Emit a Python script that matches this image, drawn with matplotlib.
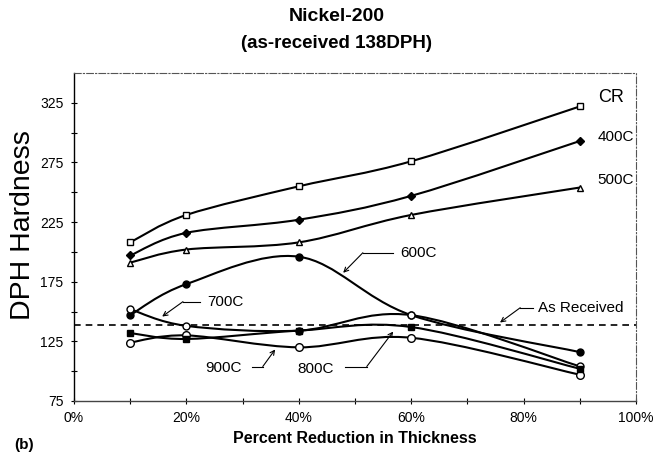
import numpy as np
import matplotlib
matplotlib.use("Agg")
import matplotlib.pyplot as plt
from matplotlib.path import Path
from matplotlib.patches import PathPatch

plt.rcParams['font.family'] = ['Liberation Sans', 'DejaVu Sans']

# ---- data ----
reduction = [10, 20, 40, 60, 90]  # percent reduction in thickness
cr    = [208, 231, 255, 276, 322]
c400  = [197, 216, 227, 247, 293]
c500  = [191, 202, 208, 231, 254]
c600  = [147, 173, 196, 147, 116]
c700  = [152, 138, 134, 147, 104]
c800  = [124, 130, 120, 128, 97]
c900  = [132, 127, 134, 137, 102]
as_received = 139

series = [
    ("CR", cr, dict(marker='s', mfc='white', ms=5)),
    ("400C", c400, dict(marker='D', mfc='black', ms=4.5)),
    ("500C", c500, dict(marker='^', mfc='white', ms=5)),
    ("600C", c600, dict(marker='o', mfc='black', ms=5)),
    ("700C", c700, dict(marker='o', mfc='white', ms=5)),
    ("800C", c800, dict(marker='o', mfc='white', ms=5.5)),
    ("900C", c900, dict(marker='s', mfc='black', ms=5)),
]

def smooth_path(x, y):
    """Excel-like smoothed line as cubic Bezier (Catmull-Rom control points)."""
    pts = np.column_stack([x, y]).astype(float)
    n = len(pts)
    verts = [pts[0]]
    codes = [Path.MOVETO]
    for i in range(n - 1):
        p0 = pts[i - 1] if i > 0 else pts[i]
        p1 = pts[i]
        p2 = pts[i + 1]
        p3 = pts[i + 2] if i + 2 < n else pts[i + 1]
        c1 = p1 + (p2 - p0) / 6.0
        c2 = p2 - (p3 - p1) / 6.0
        verts += [c1, c2, p2]
        codes += [Path.CURVE4] * 3
    return Path(verts, codes)

fig = plt.figure(figsize=(6.66, 4.58), dpi=100)
ax = fig.add_axes([0.111, 0.1245, 0.844, 0.716])

for name, vals, st in series:
    ax.add_patch(PathPatch(smooth_path(reduction, vals), fill=False,
                           edgecolor='black', lw=1.5, zorder=3))
    ax.plot(reduction, vals, linestyle='none', mec='black', mew=1.0,
            zorder=4, **st)

ax.axhline(as_received, color='black', lw=1.2, ls=(0, (4, 3)), zorder=2)

ax.set_xlim(0, 100)
ax.set_ylim(75, 350)
ax.set_xticks(np.arange(0, 101, 20))
ax.set_xticklabels([f"{v}%" for v in range(0, 101, 20)])
ax.set_xticks(np.arange(10, 100, 20), minor=True)
ax.set_yticks(np.arange(75, 326, 50))
ax.set_yticks(np.arange(100, 301, 50), minor=True)
ax.tick_params(axis='both', which='major', direction='inout', length=5,
               width=0.8, labelsize=10, pad=5)
ax.tick_params(axis='both', which='minor', direction='inout', length=4,
               width=0.8)

for s in ['top', 'right']:
    ax.spines[s].set_linestyle((0, (6, 2, 1, 2)))
    ax.spines[s].set_color('#555555')
    ax.spines[s].set_linewidth(0.8)
ax.spines['left'].set_linewidth(1.0)
ax.spines['bottom'].set_linewidth(1.0)
ax.spines['bottom'].set_color('#444444')

ax.set_ylabel("DPH Hardness", fontsize=20.5)
ax.yaxis.set_label_coords(-0.068, 0.537)
ax.set_xlabel("Percent Reduction in Thickness", fontsize=11.5,
              fontweight='bold', labelpad=4)

fig.text(0.506, 0.963, "Nickel-200", ha='center', va='center',
         fontsize=14, fontweight='bold')
fig.text(0.506, 0.905, "(as-received 138DPH)", ha='center', va='center',
         fontsize=13.5, fontweight='bold')
fig.text(0.021, 0.028, "(b)", ha='left', va='center', fontsize=11,
         fontweight='bold')

# end labels
ax.text(93.2, 329.4, "CR", fontsize=13, va='center', ha='left')
ax.text(93.1, 296, "400C", fontsize=11, va='center', ha='left')
ax.text(93.1, 260, "500C", fontsize=11, va='center', ha='left')

arrow = dict(arrowstyle='->', lw=0.8, color='black', shrinkA=0, shrinkB=0,
             mutation_scale=8)

def callout(text, text_xy, elbow_start, elbow_end, target, ha='left'):
    ax.text(text_xy[0], text_xy[1], text, fontsize=11, va='center', ha=ha)
    ax.plot([elbow_start[0], elbow_end[0]], [elbow_start[1], elbow_end[1]],
            color='black', lw=0.8)
    ax.annotate('', xy=target, xytext=elbow_end, arrowprops=arrow)

callout("600C", (58.0, 199.3), (56.8, 199.3), (51.4, 199.3), (47.9, 182.5))
callout("700C", (23.7, 158.3), (22.4, 158.3), (19.4, 158.3), (15.7, 145.8))
callout("900C", (29.9, 102.3), (31.7, 103.9), (33.6, 103.9), (35.8, 118.2), ha='right')
callout("800C", (39.7, 101.5), (48.2, 103.9), (52.1, 103.9), (56.8, 133.2))
callout("As Received", (82.6, 153.2), (81.7, 153.2), (79.4, 153.2), (75.8, 140.8))

fig.savefig("out.png", dpi=100)
